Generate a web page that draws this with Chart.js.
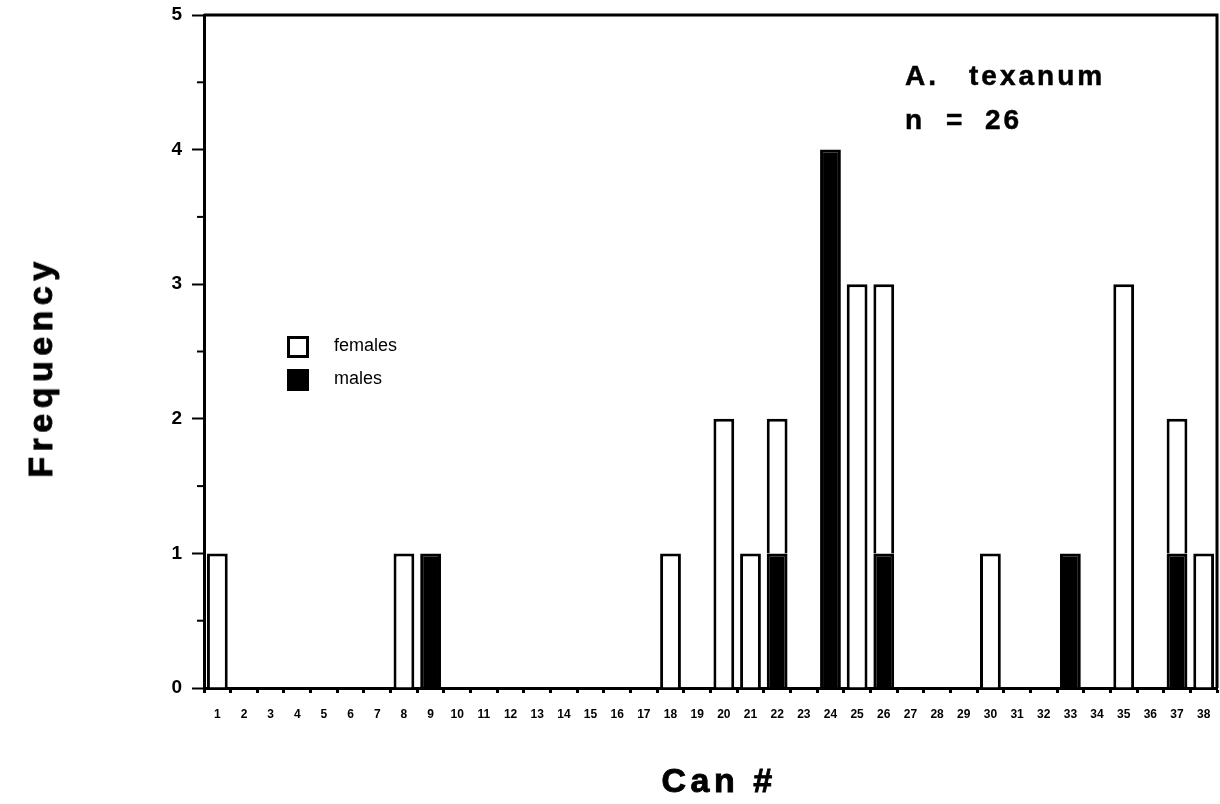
<!DOCTYPE html>
<html>
<head>
<meta charset="utf-8">
<script src="https://cdn.jsdelivr.net/npm/chart.js@4.4.1/dist/chart.umd.min.js"></script>
<style>
  html, body { margin: 0; padding: 0; background: #fff; }
  #wrap { position: relative; width: 1220px; height: 804px; }
  canvas { position: absolute; left: 0; top: 0; }
  .ann { position: absolute; font-family: "Liberation Sans", Arial, sans-serif; font-weight: bold; font-size: 28px; color: #000; white-space: pre; letter-spacing: 3px; -webkit-text-stroke: 0.5px #000; }
  .lg { position: absolute; font-family: "Liberation Sans", Arial, sans-serif; font-size: 18px; color: #000; }
  .box { position: absolute; width: 16px; height: 16px; border: 3px solid #000; }
  .ttl { position: absolute; font-family: "Liberation Sans", Arial, sans-serif; font-weight: bold; font-size: 34px; line-height: 34px; color: #000; white-space: pre; -webkit-text-stroke: 0.9px #000; }
</style>
</head>
<body>
<div id="wrap">
  <canvas id="c" width="1220" height="804"></canvas>
  <div class="ttl" id="ytitle" style="left:40px; top:367px; letter-spacing:5.5px; transform: translate(-50%,-50%) rotate(-90deg);">Frequency</div>
  <div class="ttl" id="xtitle" style="left:719px; top:780px; letter-spacing:4.5px; transform: translate(-50%,-50%);">Can #</div>
  <div class="ann" style="left:905px; top:60px;">A.</div>
  <div class="ann" style="left:969px; top:60px;">texanum</div>
  <div class="ann" style="left:905px; top:104px;">n</div>
  <div class="ann" style="left:946px; top:104px;">=</div>
  <div class="ann" style="left:985px; top:104px;">26</div>
  <div class="box" style="left:287px; top:336px; background:#fff;"></div>
  <div class="lg" style="left:334px; top:335px;">females</div>
  <div class="box" style="left:287px; top:369px; background:#000;"></div>
  <div class="lg" style="left:334px; top:368px;">males</div>
</div>
<script>
const categories = ["1","2","3","4","5","6","7","8","9","10","11","12","13","14","15","16","17","18","19","20","21","22","23","24","25","26","27","28","29","30","31","32","33","34","35","36","37","38"];
const males   = [0,0,0,0,0,0,0,0,1,0,0,0,0,0,0,0,0,0,0,0,0,1,0,4,0,1,0,0,0,0,0,0,1,0,0,0,1,0];
const females = [1,0,0,0,0,0,0,1,0,0,0,0,0,0,0,0,0,1,0,2,1,1,0,0,3,2,0,0,0,1,0,0,0,0,3,0,1,1];
const yTicks = [0,1,2,3,4,5];

const LEFT = 204, TOP = 15, BOTTOM = 688;

const framePlugin = {
  id: 'frame',
  afterDatasetsDraw(chart) {
    const {ctx, chartArea: a, scales: {y}} = chart;
    ctx.save();
    ctx.strokeStyle = '#000';
    ctx.lineWidth = 3;
    ctx.beginPath();
    ctx.moveTo(a.left, a.top); ctx.lineTo(a.right, a.top); ctx.lineTo(a.right, a.bottom);
    ctx.stroke();
    ctx.lineWidth = 2;
    for (let v = 0.5; v < 5; v += 1) {
      const py = y.getPixelForValue(v);
      ctx.beginPath(); ctx.moveTo(a.left - 7, py); ctx.lineTo(a.left, py); ctx.stroke();
    }
    ctx.restore();
  }
};

new Chart(document.getElementById('c'), {
  type: 'bar',
  data: {
    labels: categories,
    datasets: [
      { label: 'males', data: males, backgroundColor: '#000', borderColor: '#000', borderWidth: 3, barPercentage: 0.78, categoryPercentage: 1 },
      { label: 'females', data: females, backgroundColor: '#fff', borderColor: '#000', borderWidth: 3, barPercentage: 0.78, categoryPercentage: 1 }
    ]
  },
  options: {
    responsive: false,
    animation: false,
    layout: { padding: { left: 0, right: 3, top: TOP, bottom: 0 } },
    plugins: { legend: { display: false }, tooltip: { enabled: false } },
    scales: {
      x: {
        stacked: true,
        offset: true,
        grid: { display: true, drawOnChartArea: false, offset: true, tickLength: 5, tickWidth: 3, tickColor: '#000' },
        border: { display: true, color: '#000', width: 3 },
        ticks: { autoSkip: false, maxRotation: 0, minRotation: 0, padding: 14, color: '#000', font: { family: 'Liberation Sans, Arial, sans-serif', size: 12, weight: 'bold' } },
        afterFit(s) { s.height = 804 - BOTTOM; s.paddingLeft = 0; s.paddingRight = 0; }
      },
      y: {
        stacked: true,
        min: 0, max: 5,
        afterBuildTicks(s) { s.ticks = yTicks.map(v => ({ value: v })); },
        grid: { display: true, drawOnChartArea: false, tickLength: 12, tickWidth: 2, tickColor: '#000' },
        border: { display: true, color: '#000', width: 3 },
        ticks: { padding: 10, color: '#000', font: { family: 'Liberation Sans, Arial, sans-serif', size: 19, weight: 'bold' } },
        afterFit(s) { s.width = LEFT; s.paddingTop = 0; s.paddingBottom = 0; }
      }
    }
  },
  plugins: [framePlugin]
});
</script>
</body>
</html>
